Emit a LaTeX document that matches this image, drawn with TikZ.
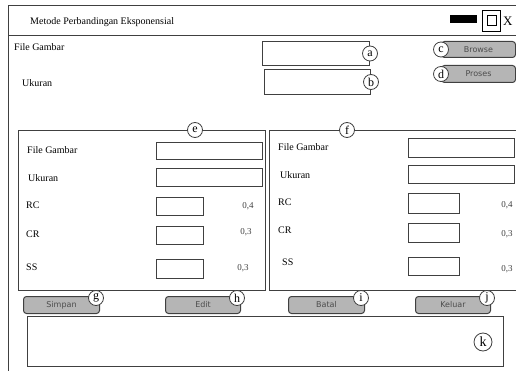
\documentclass[tikz,border=0pt]{standalone}
\usepackage{fontspec}
\setmainfont{Liberation Serif}
\newfontfamily\btnfont{DejaVu Sans}
\usetikzlibrary{positioning}
\definecolor{FrameClr}{rgb}{0.25,0.25,0.25}
\definecolor{BtnClr}{rgb}{0.71,0.71,0.71}
\definecolor{BtnTxt}{rgb}{0.3,0.3,0.3}

\begin{document}
\begin{tikzpicture}[x=1pt,y=-1pt,
  lbl/.style={anchor=west,inner sep=0pt,font=\fontsize{10}{12}\selectfont},
  num/.style={inner sep=0pt,font=\fontsize{9}{10}\selectfont,text=FrameClr},
  field/.style={draw=FrameClr,line width=1pt,anchor=north west,inner sep=0pt},
  panel/.style={draw=FrameClr,line width=1pt,anchor=north west,inner sep=0pt},
  btn/.style={draw=FrameClr,fill=BtnClr,rounded corners=3pt,line width=1pt,
    anchor=north west,inner sep=0pt,text=BtnTxt,font=\btnfont\fontsize{8}{9}\selectfont},
  tag/.style={circle,draw=FrameClr,fill=white,line width=.8pt,inner sep=0pt,
    minimum size=15pt,font=\fontsize{12}{13}\selectfont},
  tagb/.style={tag,xshift=-4pt,yshift=-2pt}]
\clip (0,0) rectangle (516,371);
\fill[white] (0,0) rectangle (516,371);

% window
\draw[FrameClr,line width=1pt] (8,380) -- (8,6) -- (525,6);
\draw[FrameClr,line width=1pt] (8,36) -- (525,36);
\node[lbl] (title) at (30,22) {Metode Perbandingan Eksponensial};
\fill[black] (450,15) rectangle (477,23);
\draw[black,line width=.8pt] (482,10) rectangle (500,31);
\draw[black,line width=.8pt] (487,15) rectangle (496,25);
\node[lbl,font=\fontsize{13}{14}\selectfont] (close) at (503,21) {X};

% top form
\node[lbl] (lfile) at (14,47) {File Gambar};
\node[lbl] (lsize) at (22,83) {Ukuran};
\node[field,minimum width=107,minimum height=24] (ffile) at (262,41) {};
\node[field,minimum width=106,minimum height=25] (fsize) at (264,69) {};
\node[btn,minimum width=74,minimum height=16] (browse) at (441,41) {Browse};
\node[btn,minimum width=74,minimum height=17] (proses) at (441,65) {Proses};

% left panel
\node[panel,minimum width=247,minimum height=160] (pleft) at (18,130) {};
\node[lbl] (lfile1) at (27,150) {File Gambar};
\node[lbl] (lsize1) at (28,178) {Ukuran};
\node[lbl] (lrc1) at (26,205) {RC};
\node[lbl] (lcr1) at (26,234) {CR};
\node[lbl] (lss1) at (26,267) {SS};
\node[field,minimum width=106,minimum height=17] (ffile1) at (156,142) {};
\node[field,minimum width=106,minimum height=18] (fsize1) at (156,168) {};
\node[field,minimum width=47,minimum height=18] (frc1) at (156,197) {};
\node[field,minimum width=47,minimum height=18] (fcr1) at (156,226) {};
\node[field,minimum width=47,minimum height=19] (fss1) at (156,259) {};
\node[num] (nrc1) at (248,206) {0,4};
\node[num] (ncr1) at (246,232) {0,3};
\node[num] (nss1) at (243,268) {0,3};

% right panel
\node[panel,minimum width=260,minimum height=160] (pright) at (269,130) {};
\node[lbl] (lfile2) at (278,147) {File Gambar};
\node[lbl] (lsize2) at (280,175) {Ukuran};
\node[lbl] (lrc2) at (278,202) {RC};
\node[lbl] (lcr2) at (278,230) {CR};
\node[lbl] (lss2) at (282,262) {SS};
\node[field,minimum width=106,minimum height=19] (ffile2) at (408,138) {};
\node[field,minimum width=106,minimum height=18] (fsize2) at (408,165) {};
\node[field,minimum width=51,minimum height=20] (frc2) at (408,193) {};
\node[field,minimum width=51,minimum height=19] (fcr2) at (408,223) {};
\node[field,minimum width=51,minimum height=18] (fss2) at (408,257) {};
\node[num] (nrc2) at (507,205) {0,4};
\node[num] (ncr2) at (507,234) {0,3};
\node[num] (nss2) at (507,269) {0,3};

% bottom
\node[btn,minimum width=76,minimum height=17] (simpan) at (23,296) {Simpan};
\node[btn,minimum width=75,minimum height=17] (edit) at (165,296) {Edit};
\node[btn,minimum width=76,minimum height=17] (batal) at (288,296) {Batal};
\node[btn,minimum width=75,minimum height=17] (keluar) at (415,296) {Keluar};
\node[field,minimum width=476,minimum height=50] (output) at (27,316) {};

% tags
\node[tag] (ta) at (ffile.east) {a};
\node[tag] (tb) at (fsize.east) {b};
\node[tag] (tc) at (browse.west) {c};
\node[tag] (td) at (proses.west) {d};
\node[tag] (te) at (195,130) {e};
\node[tag] (tf) at (347,130) {f};
\node[tagb] (tg) at (simpan.north east) {g};
\node[tagb] (th) at (edit.north east) {h};
\node[tagb] (ti) at (batal.north east) {i};
\node[tagb] (tj) at (keluar.north east) {j};
\node[tag,minimum size=18pt,font=\fontsize{14}{15}\selectfont] (tk) at (483,342) {k};

\end{tikzpicture}
\end{document}
